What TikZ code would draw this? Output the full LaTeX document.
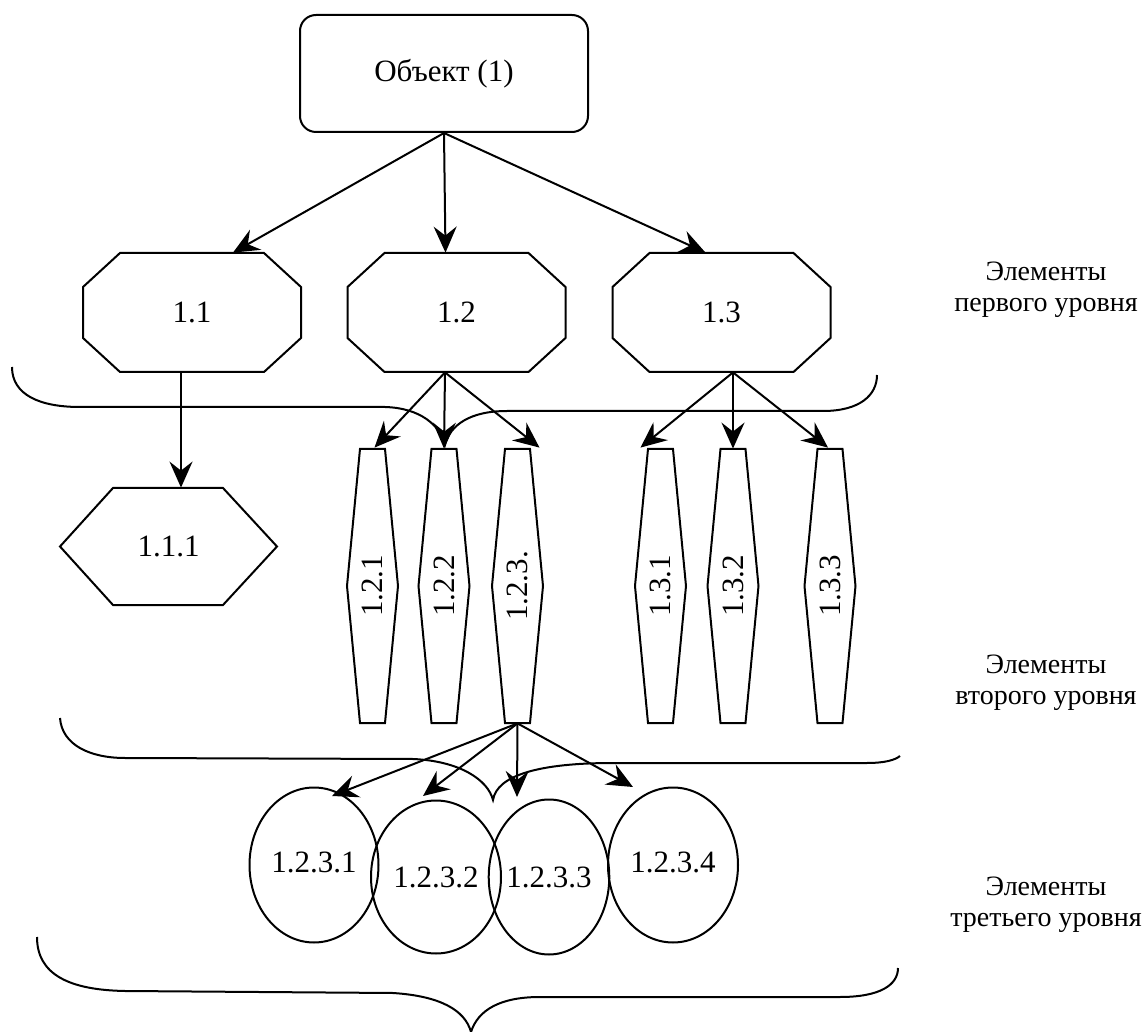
\documentclass[tikz,border=0pt]{standalone}
\usepackage{fontspec}
\setmainfont{Liberation Serif}
\newfontfamily\tnrfont{Liberation Serif}
\usetikzlibrary{shapes.geometric,arrows.meta,calc}

% octagon drawn around the centre of a node (half sizes 109 x 59.5, chamfer 37 x 34)
\newcommand{\octaround}[1]{%
  \draw[shp] ([shift={(-72,-59.5)}]#1.center) -- ([shift={(72,-59.5)}]#1.center)
    -- ([shift={(109,-25.5)}]#1.center) -- ([shift={(109,25.5)}]#1.center)
    -- ([shift={(72,59.5)}]#1.center) -- ([shift={(-72,59.5)}]#1.center)
    -- ([shift={(-109,25.5)}]#1.center) -- ([shift={(-109,-25.5)}]#1.center) -- cycle;}
% tall hexagon: narrow flat ends, widest in the middle
\newcommand{\spindlearound}[1]{%
  \draw[shp] ([shift={(-12.5,-137)}]#1.center) -- ([shift={(12.5,-137)}]#1.center)
    -- ([shift={(25.5,0)}]#1.center) -- ([shift={(12.5,137)}]#1.center)
    -- ([shift={(-12.5,137)}]#1.center) -- ([shift={(-25.5,0)}]#1.center) -- cycle;}

\begin{document}
\begin{tikzpicture}[x=0.5pt,y=-0.5pt,
  every node/.style={font=\tnrfont\fontsize{15.5}{16}\selectfont},
  frame/.style={draw=none,rectangle,inner sep=0pt},
  shp/.style={draw,line width=1pt,line join=miter},
  arr/.style={draw,line width=1pt,-{Stealth[length=13pt,width=11.5pt,inset=4.5pt]}},
  bracepath/.style={draw,line width=1pt},
  elem/.style={ellipse,draw,line width=1pt,inner sep=0pt,minimum height=77.5pt},
  levellabel/.style={align=center,font=\tnrfont\fontsize{14}{15.5}\selectfont}
]
\useasboundingbox (0,0) rectangle (1142,1032);

% root object
\node[draw,line width=1pt,rounded corners=8pt,minimum width=144pt,minimum height=58.5pt]
  (obj) at (444,73.5) {\raisebox{3pt}{Объект (1)}};

% first level
\node[frame,minimum width=109pt,minimum height=59.5pt] (n11) at (192,312.5) {1.1};
\node[frame,minimum width=109pt,minimum height=59.5pt] (n12) at (456.5,312.5) {1.2};
\node[frame,minimum width=109pt,minimum height=59.5pt] (n13) at (721.5,312.5) {1.3};
\octaround{n11}
\octaround{n12}
\octaround{n13}

% second level
\node[frame,minimum width=108.5pt,minimum height=58.5pt] (h111) at (168.5,546.5) {1.1.1};
\draw[shp] ([shift={(-55.5,-58.5)}]h111.center) -- ([shift={(54.5,-58.5)}]h111.center)
  -- ([shift={(108.5,0)}]h111.center) -- ([shift={(54.5,58.5)}]h111.center)
  -- ([shift={(-55.5,58.5)}]h111.center) -- ([shift={(-108.5,0)}]h111.center) -- cycle;

\node[frame,minimum width=25.5pt,minimum height=137pt] (s121) at (372.5,586) {\rotatebox{90}{1.2.1}};
\node[frame,minimum width=25.5pt,minimum height=137pt] (s122) at (444,586) {\rotatebox{90}{1.2.2}};
\node[frame,minimum width=25.5pt,minimum height=137pt] (s123) at (517.5,586) {\rotatebox{90}{1.2.3.}};
\node[frame,minimum width=25.5pt,minimum height=137pt] (s131) at (660.5,586) {\rotatebox{90}{1.3.1}};
\node[frame,minimum width=25.5pt,minimum height=137pt] (s132) at (733,586) {\rotatebox{90}{1.3.2}};
\node[frame,minimum width=25.5pt,minimum height=137pt] (s133) at (830,586) {\rotatebox{90}{1.3.3}};
\spindlearound{s121}
\spindlearound{s122}
\spindlearound{s123}
\spindlearound{s131}
\spindlearound{s132}
\spindlearound{s133}

% third level
\node[elem,minimum width=64.5pt] (e1) at (314,865) {\raisebox{3pt}{1.2.3.1}};
\node[elem,minimum width=65pt,minimum height=76.5pt] (e2) at (436,877) {1.2.3.2};
\node[elem,minimum width=58.5pt] (e3) at (549,877) {1.2.3.3};
\node[elem,minimum width=65pt] (e4) at (673,865) {\raisebox{3pt}{1.2.3.4}};

% connectors
\draw[arr] (obj.south) -- ([shift={(41,0)}]n11.north);
\draw[arr] (obj.south) -- ([shift={(-11,0)}]n12.north);
\draw[arr] (obj.south) -- ([shift={(-16,0)}]n13.north);

\draw[arr] ([shift={(-11,0)}]n11.south) -- ([shift={(12.5,0)}]h111.north);

\draw[arr] ([shift={(-11.5,0)}]n12.south) -- ([shift={(2,-1)}]s121.north);
\draw[arr] ([shift={(-11.5,0)}]n12.south) -- (s122.north);
\draw[arr] ([shift={(-11.5,0)}]n12.south) -- ([shift={(22,-1)}]s123.north);

\draw[arr] ([shift={(11.5,0)}]n13.south) -- ([shift={(-20,-1)}]s131.north);
\draw[arr] ([shift={(11.5,0)}]n13.south) -- (s132.north);
\draw[arr] ([shift={(11.5,0)}]n13.south) -- ([shift={(-2,-1)}]s133.north);

\draw[arr] (s123.south) -- ([shift={(18,9.5)}]e1.north);
\draw[arr] (s123.south) -- ([shift={(-13,-3.5)}]e2.north);
\draw[arr] (s123.south) -- ([shift={(-32,-1.5)}]e3.north);
\draw[arr] (s123.south) -- ([shift={(-40,0.5)}]e4.north);

% level braces
\draw[bracepath] (12,367) .. controls (12,395) and (40,407) .. (80,407) -- (385,407)
  .. controls (420,408) and (440,425) .. (445,445)
  .. controls (450,425) and (470,411) .. (507,411) -- (823,411)
  .. controls (860,411) and (877,395) .. (877,375);
\draw[bracepath] (60,718) .. controls (62,745) and (90,758) .. (125,758) -- (413,759)
  .. controls (460,761) and (488,780) .. (493,800)
  .. controls (497,775) and (540,763) .. (613,763) -- (867,763)
  .. controls (885,763) and (895,760) .. (900,756);
\draw[bracepath] (37,937) .. controls (37,975) and (70,990) .. (125,991) -- (393,993)
  .. controls (440,996) and (465,1010) .. (471,1032)
  .. controls (478,1010) and (500,997) .. (540,997) -- (840,997)
  .. controls (880,997) and (898,985) .. (898,968);

% level captions
\node[levellabel] (lv1) at (1046,290) {Элементы\\первого уровня};
\node[levellabel] (lv2) at (1046,683) {Элементы\\второго уровня};
\node[levellabel] (lv3) at (1046,905) {Элементы\\третьего уровня};
\end{tikzpicture}
\end{document}
